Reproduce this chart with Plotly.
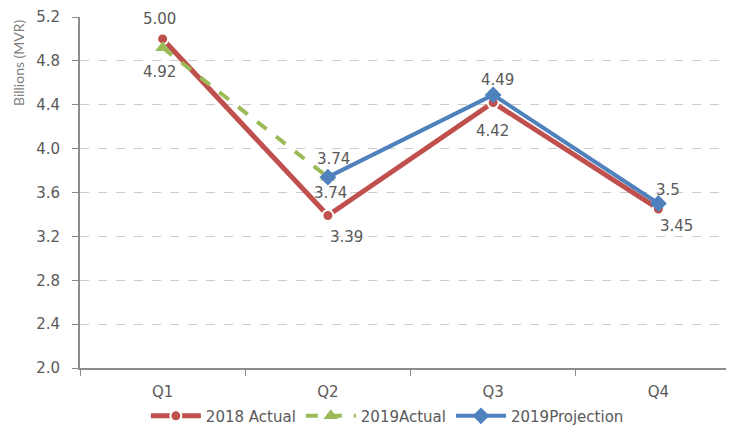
import plotly.graph_objects as go

quarters = ["Q1", "Q2", "Q3", "Q4"]

actual_2018 = [5.00, 3.39, 4.42, 3.45]
actual_2018_text = ["5.00", "3.39", "4.42", "3.45"]

actual_2019_q = ["Q1", "Q2"]
actual_2019 = [4.92, 3.74]
actual_2019_text = ["4.92", "3.74"]

proj_2019_q = ["Q2", "Q3", "Q4"]
proj_2019 = [3.74, 4.49, 3.5]
proj_2019_text = ["3.74", "4.49", "3.5"]

font_main = "'DejaVu Sans', sans-serif"
txt_col = "#595959"

fig = go.Figure()

fig.add_trace(go.Scatter(
    x=quarters, y=actual_2018, name="2018 Actual", mode="lines+markers",
    line=dict(color="#C0504D", width=5),
    marker=dict(symbol="circle", size=11, color="#C0504D",
                line=dict(color="white", width=2)),
))

fig.add_trace(go.Scatter(
    x=actual_2019_q, y=actual_2019, name="2019Actual", mode="lines+markers",
    line=dict(color="#9BBB59", width=4, dash="dash"),
    marker=dict(symbol="triangle-up", size=13, color="#9BBB59"),
))

fig.add_trace(go.Scatter(
    x=proj_2019_q, y=proj_2019, name="2019Projection", mode="lines+markers",
    line=dict(color="#4F81BD", width=4),
    marker=dict(symbol="diamond", size=13, color="#4F81BD"),
))

# data labels, nudged like the original
label_sets = [
    (quarters, actual_2018, actual_2018_text, [(-3, 20), (19, -21), (-1, -28), (18, -17)]),
    (actual_2019_q, actual_2019, actual_2019_text, [(-3, -24), (3, -16)]),
    (proj_2019_q, proj_2019, proj_2019_text, [(6, 18), (4, 15), (10, 13)]),
]
for xs, ys, ts, shifts in label_sets:
    for xv, yv, tv, (dx, dy) in zip(xs, ys, ts, shifts):
        fig.add_annotation(x=xv, y=yv, text=tv, showarrow=False,
                           xshift=dx, yshift=dy,
                           font=dict(size=15, color=txt_col, family=font_main))

fig.update_xaxes(
    categoryorder="array", categoryarray=quarters, range=[-0.5, 3.5],
    showline=True, linecolor="#8c8c8c", linewidth=2,
    ticks="outside", tickson="boundaries", ticklen=6, tickcolor="#8c8c8c",
    ticklabelstandoff=9,
    showgrid=False, automargin=False,
    tickfont=dict(size=15, color=txt_col, family=font_main),
)

fig.update_yaxes(
    range=[2.0, 5.2], dtick=0.4, tickformat=".1f",
    showline=True, linecolor="#8c8c8c", linewidth=2,
    ticks="outside", ticklen=6, tickcolor="#8c8c8c",
    ticklabelstandoff=9, ticklabeloverflow="allow",
    showgrid=True, gridcolor="#cccccc", griddash="dash", gridwidth=1,
    zeroline=False, automargin=False,
    tickfont=dict(size=15, color=txt_col, family=font_main),
)

fig.add_annotation(
    text="Billions (MVR)", textangle=-90,
    xref="paper", yref="paper", x=-0.093, y=1.0,
    xanchor="center", yanchor="top", showarrow=False,
    font=dict(size=14, color="#7f7f7f", family="Lato, sans-serif"),
)

fig.update_layout(
    width=734, height=432,
    margin=dict(l=72, r=1, t=9, b=72, autoexpand=False),
    paper_bgcolor="white", plot_bgcolor="white",
    font=dict(family=font_main, color=txt_col),
    showlegend=True,
    legend=dict(orientation="h", x=0.465, xanchor="center", y=-0.137, yanchor="middle",
                itemwidth=50,
                font=dict(size=15, color=txt_col, family=font_main)),
)

fig.write_html("out.html")
